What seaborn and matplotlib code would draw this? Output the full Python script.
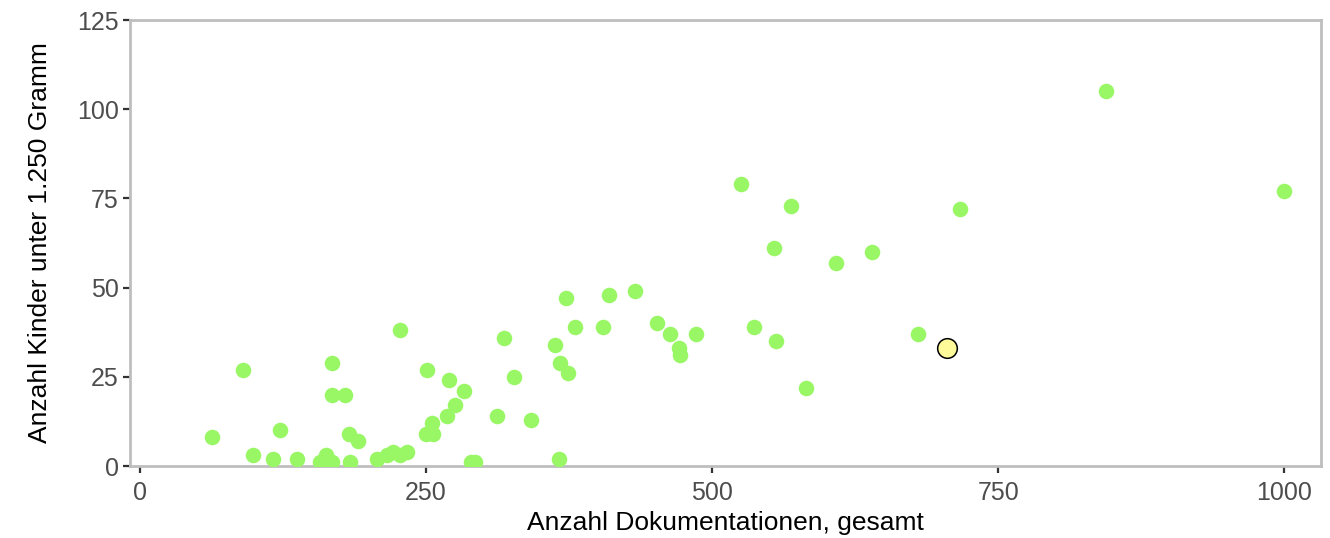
import numpy as np
import pandas as pd
import matplotlib
matplotlib.use("Agg")
import matplotlib.pyplot as plt
import seaborn as sns

# Werte
doku_gesamt = [63, 90, 99, 116, 122, 137, 157, 163, 168, 168, 168, 179, 183, 184, 191,
               207, 216, 221, 227, 227, 233, 250, 251, 255, 256, 268, 270, 275, 283,
               289, 293, 312, 318, 327, 342, 363, 366, 367, 372, 374, 380, 405, 410,
               433, 452, 463, 471, 472, 486, 525, 537, 554, 556, 569, 582, 608, 640,
               680, 717, 844, 1000]
kinder_1250 = [8, 27, 3, 2, 10, 2, 1, 3, 1, 29, 20, 20, 9, 1, 7,
               2, 3, 4, 3, 38, 4, 9, 27, 12, 9, 14, 24, 17, 21,
               1, 1, 14, 36, 25, 13, 34, 2, 29, 47, 26, 39, 39, 48,
               49, 40, 37, 33, 31, 37, 79, 39, 61, 35, 73, 22, 57, 60,
               37, 72, 105, 77]

# hervorgehobene Klinik
hl_doku = [705]
hl_kinder = [33]

df = pd.DataFrame({"doku": doku_gesamt, "kinder": kinder_1250})
df_hl = pd.DataFrame({"doku": hl_doku, "kinder": hl_kinder})

sns.set_style("white")
plt.rcParams["font.family"] = ["Liberation Sans", "DejaVu Sans"]

fig = plt.figure(figsize=(13.3, 5.38), dpi=100)
ax = fig.add_axes([0.0977, 0.1338, 0.8955, 0.829])

sns.scatterplot(data=df, x="doku", y="kinder", ax=ax, color="#99F766",
                s=125, linewidth=0, zorder=3)
sns.scatterplot(data=df_hl, x="doku", y="kinder", ax=ax, color="#FFFA99",
                s=200, edgecolor="black", linewidth=1.1, zorder=4)

ax.set_xlim(-8.7, 1032)
ax.set_ylim(0, 125)
ax.set_xticks([0, 250, 500, 750, 1000])
ax.set_yticks([0, 25, 50, 75, 100, 125])

for sp in ax.spines.values():
    sp.set_visible(True)
    sp.set_color("#BEBEBE")
    sp.set_linewidth(2)

ax.tick_params(axis="both", which="both", direction="out", length=5, width=1.6,
               color="#333333", labelcolor="#4D4D4D", labelsize=18, pad=3,
               bottom=True, left=True)
ax.tick_params(axis="x", pad=6)

ax.set_xlabel("Anzahl Dokumentationen, gesamt", fontsize=19, color="black", labelpad=4)
ax.set_ylabel("Anzahl Kinder unter 1.250 Gramm", fontsize=19, color="black", labelpad=18)

fig.savefig("out.png", dpi=100)
